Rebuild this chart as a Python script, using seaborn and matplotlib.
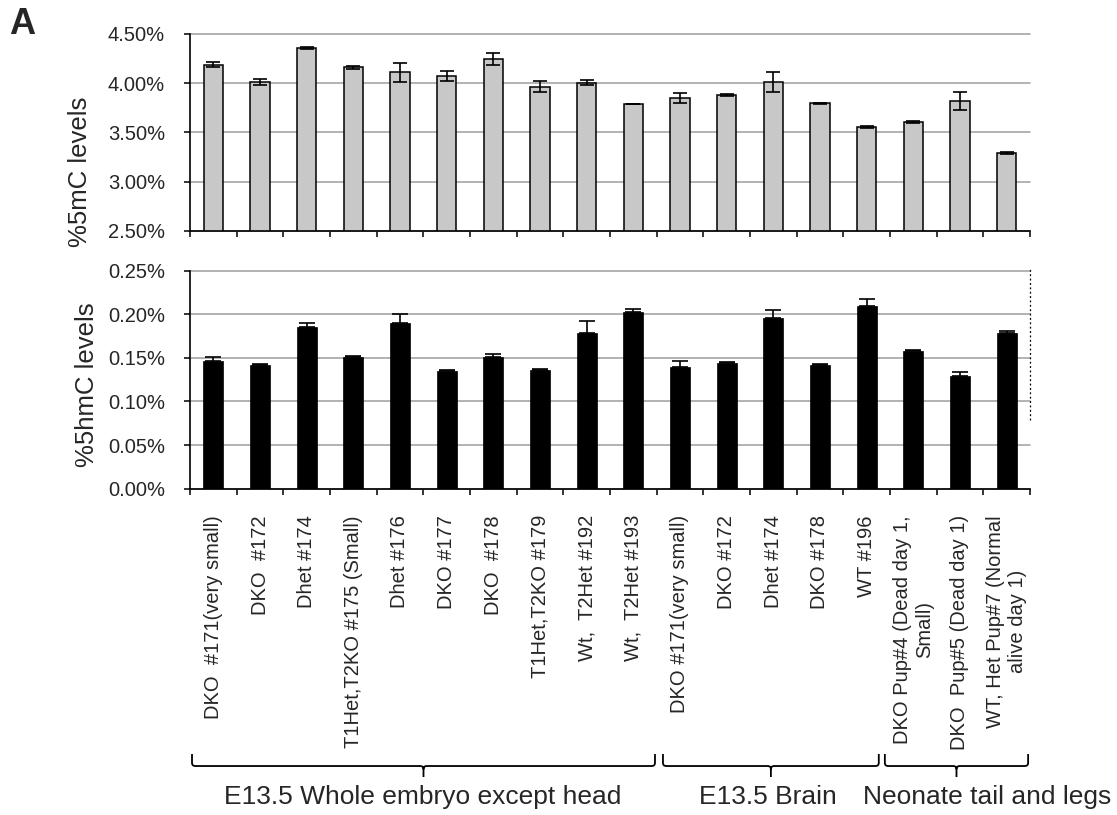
import numpy as np
import pandas as pd
import matplotlib
matplotlib.use("Agg")
import matplotlib.pyplot as plt
import matplotlib.transforms as mtransforms
from matplotlib.path import Path
from matplotlib.patches import PathPatch
import seaborn as sns

sns.set_style("white")
plt.rcParams['font.family'] = ['Liberation Sans', 'DejaVu Sans']

# sample names (bar order, left to right)
samples = [
    "DKO  #171(very small)", "DKO  #172", "Dhet #174", "T1Het,T2KO #175 (Small)",
    "Dhet #176", "DKO #177", "DKO  #178", "T1Het,T2KO #179", "Wt,  T2Het #192",
    "Wt,  T2Het #193",
    "DKO #171(very small)", "DKO #172", "Dhet #174", "DKO #178", "WT #196",
    "DKO Pup#4 (Dead day 1,\nSmall)", "DKO  Pup#5 (Dead day 1)",
    "WT, Het Pup#7 (Normal\nalive day 1)",
]

# %5mC levels (mean, error)
mc_levels = [4.19, 4.01, 4.355, 4.16, 4.11, 4.075, 4.245, 3.965, 4.005, 3.79,
             3.85, 3.88, 4.01, 3.795, 3.557, 3.608, 3.82, 3.29]
mc_err = [0.025, 0.03, 0.01, 0.02, 0.095, 0.054, 0.064, 0.054, 0.027, 0.004,
          0.054, 0.012, 0.10, 0.008, 0.012, 0.008, 0.088, 0.012]

# %5hmC levels (mean, upper error)
hmc_levels = [0.1468, 0.1418, 0.1854, 0.151, 0.1905, 0.135, 0.151, 0.136, 0.178, 0.2026,
              0.1396, 0.1445, 0.196, 0.1422, 0.2095, 0.1583, 0.1292, 0.179]
hmc_err = [0.004, 0.001, 0.005, 0.001, 0.0095, 0.001, 0.003, 0.001, 0.014, 0.004,
           0.007, 0.001, 0.009, 0.001, 0.008, 0.0007, 0.0046, 0.0022]

# tissue groups: (label, first bar, last bar)
group_names = ["E13.5 Whole embryo except head", "E13.5 Brain", "Neonate tail and legs"]
group_first = [0, 10, 15]
group_last = [9, 14, 17]

df = pd.DataFrame({"pos": np.arange(len(samples)), "sample": samples,
                   "mc": mc_levels, "mc_err": mc_err,
                   "hmc": hmc_levels, "hmc_err": hmc_err})

fig = plt.figure(figsize=(11.17, 8.15), dpi=100)
ax1 = fig.add_axes([0.1701, 0.7166, 0.752, 0.2417])
ax2 = fig.add_axes([0.1701, 0.4004, 0.752, 0.2675])

grid_col = "#a6a6a6"
tick_fs = 14.5
label_fs = 18.5

# top panel
sns.barplot(data=df, x="pos", y="mc", color="#c8c8c8", saturation=1, width=0.42,
            edgecolor="black", linewidth=1.1, errorbar=None, ax=ax1)
ax1.errorbar(df["pos"], df["mc"], yerr=df["mc_err"], fmt="none", ecolor="black",
             elinewidth=1.2, capsize=5, capthick=1.2, zorder=5)
ax1.set_ylim(2.5, 4.5)
ax1.set_yticks(np.arange(2.5, 4.51, 0.5))
ax1.set_yticklabels([f"{v:.2f}%" for v in np.arange(2.5, 4.51, 0.5)])

# bottom panel
sns.barplot(data=df, x="pos", y="hmc", color="black", saturation=1, width=0.43,
            edgecolor="black", linewidth=0.5, errorbar=None, ax=ax2)
ax2.errorbar(df["pos"], df["hmc"], yerr=[np.zeros(len(df)), df["hmc_err"]], fmt="none",
             ecolor="black", elinewidth=1.2, capsize=5.5, capthick=1.2, zorder=5)
ax2.set_ylim(0, 0.25)
ax2.set_yticks(np.arange(0, 0.251, 0.05))
ax2.set_yticklabels([f"{v:.2f}%" for v in np.arange(0, 0.251, 0.05)])

n = len(samples)
for ax in (ax1, ax2):
    ax.set_xlim(-0.5, n - 0.5)
    ax.set_xticks(np.arange(-0.5, n, 1.0))
    ax.set_xticklabels([""] * (n + 1))
    ax.set_xlabel("")
    ax.yaxis.grid(True, color=grid_col, lw=1.2)
    ax.set_axisbelow(True)
    for s in ("top", "right"):
        ax.spines[s].set_visible(False)
    for s in ("left", "bottom"):
        ax.spines[s].set_color("black")
        ax.spines[s].set_linewidth(1.2)
    ax.tick_params(axis="both", which="major", direction="out", length=4, width=1.1,
                   color="black", labelsize=tick_fs, left=True, bottom=True)
    ax.tick_params(axis="y", pad=14)
    for gl in ax.get_ygridlines():
        gl.set_clip_on(False)

ax2.set_xticks(np.arange(n), minor=True)
ax2.set_xticklabels(samples, minor=True, rotation=90, fontsize=tick_fs,
                    multialignment="center")
ax2.tick_params(axis="x", which="minor", length=0, pad=19)

ax1.set_ylabel("%5mC levels", fontsize=label_fs)
ax2.set_ylabel("%5hmC levels", fontsize=label_fs)
ax1.yaxis.set_label_coords(-0.117, 0.30)
ax2.yaxis.set_label_coords(-0.108, 0.475)

# dotted leftover line on the right edge of the lower panel
ax2.plot([n - 0.5, n - 0.5], [0.079, 0.253], ls=(0, (1.5, 2)), color="black", lw=0.9,
         clip_on=False)

# group braces
trans = mtransforms.blended_transform_factory(ax2.transData, fig.transFigure)
brace_spans = [(-0.457, 9.464), (9.635, 14.26), (14.39, 17.46)]
label_x = [4.48, 11.88, 16.58]
y_top, y_mid, y_tip = 0.0748, 0.0601, 0.0466
rx, ry = 0.07, 0.004
for (a, b), name, lx in zip(brace_spans, group_names, label_x):
    m = (a + b) / 2
    verts = [(a, y_top), (a, y_mid + ry), (a, y_mid), (a + rx, y_mid), (m - rx, y_mid),
             (m, y_mid), (m, y_mid - ry), (m, y_tip),
             (b, y_top), (b, y_mid + ry), (b, y_mid), (b - rx, y_mid), (m + rx, y_mid),
             (m, y_mid), (m, y_mid - ry)]
    codes = [Path.MOVETO, Path.LINETO, Path.CURVE3, Path.CURVE3, Path.LINETO,
             Path.CURVE3, Path.CURVE3, Path.LINETO,
             Path.MOVETO, Path.LINETO, Path.CURVE3, Path.CURVE3, Path.LINETO,
             Path.CURVE3, Path.CURVE3]
    fig.add_artist(PathPatch(Path(verts, codes), fill=False, edgecolor="black", lw=1.3,
                             transform=trans, clip_on=False))
    fig.text(lx, 0.0221, name, transform=trans, ha="center", va="center", fontsize=19)

fig.text(22 / 1117, 1 - 25 / 815, "A", fontsize=26, fontweight="bold",
         ha="center", va="center")

fig.savefig("out.png", dpi=100)
plt.close(fig)
